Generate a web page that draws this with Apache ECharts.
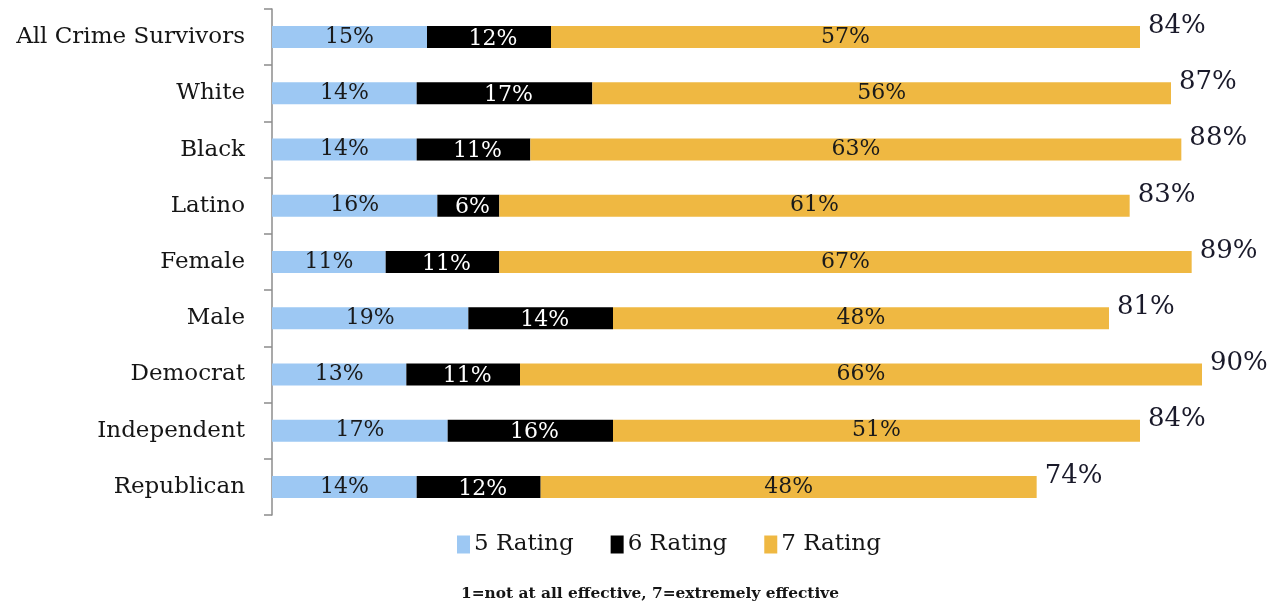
<!DOCTYPE html>
<html>
<head>
<meta charset="utf-8">
<script src="https://cdn.jsdelivr.net/npm/echarts@6/dist/echarts.min.js"></script>
<style>
html,body{margin:0;padding:0;background:#fff;}
#chart{width:1281px;height:611px;}
</style>
</head>
<body>
<div id="chart"></div>
<script>
const categories = ['All Crime Survivors','White','Black','Latino','Female','Male','Democrat','Independent','Republican'];
const rating5 = [15,14,14,16,11,19,13,17,14];
const rating6 = [12,17,11,6,11,14,11,16,12];
const rating7 = [57,56,63,61,67,48,66,51,48];
const totals = [84,87,88,83,89,81,90,84,74];
const seriesNames = ['5 Rating','6 Rating','7 Rating'];
const footnote = '1=not at all effective, 7=extremely effective';

const FONT = 'DejaVu Serif';
const chart = echarts.init(document.getElementById('chart'), null, {renderer:'canvas'});

function pct(p){ return p.value + '%'; }

const option = {
  animation:false,
  backgroundColor:'#ffffff',
  textStyle:{fontFamily:FONT},
  grid:{left:272, right:17, top:9, bottom:96, containLabel:false},
  xAxis:{type:'value', min:0, max:96, show:false},
  yAxis:{
    type:'category', data:categories, inverse:true, offset:3,
    axisLine:{show:true, lineStyle:{color:'#8c8c8c', width:1.5}},
    axisTick:{show:true, interval:0, length:8, lineStyle:{color:'#8c8c8c', width:1.5}},
    axisLabel:{margin:24, fontSize:23, color:'#151515', fontFamily:FONT},
    splitLine:{show:false}
  },
  legend:{
    data:seriesNames, left:452, top:528, itemWidth:13, itemHeight:18, itemGap:37,
    icon:'rect',
    textStyle:{fontSize:23, color:'#151515', fontFamily:FONT, padding:[0,0,0,-1]}
  },
  graphic:[{
    type:'text', x:650, y:594,
    style:{text:footnote, font:'bold 15.4px "DejaVu Serif"', fill:'#151515', align:'center', verticalAlign:'middle'}
  }],
  series:[
    {name:'5 Rating', type:'bar', stack:'r', barWidth:22, data:rating5,
     itemStyle:{color:'#9dc8f3'},
     label:{show:true, position:'inside', formatter:pct, fontSize:22, color:'#1a1a1a', fontFamily:FONT}},
    {name:'6 Rating', type:'bar', stack:'r', barWidth:22, data:rating6,
     itemStyle:{color:'#000000'},
     label:{show:true, position:'inside', formatter:pct, fontSize:22, color:'#ffffff', fontFamily:FONT, offset:[4,2]}},
    {name:'7 Rating', type:'bar', stack:'r', barWidth:22, data:rating7,
     itemStyle:{color:'#efb842'},
     label:{show:true, position:'inside', formatter:pct, fontSize:22, color:'#1a1a1a', fontFamily:FONT}},
    {name:'Total', type:'bar', barWidth:22, barGap:'-100%', data:totals, z:0,
     itemStyle:{color:'rgba(0,0,0,0)'},
     label:{show:true, position:'right', distance:8, offset:[0,-11], formatter:pct, fontSize:26, color:'#1a1a2a', fontFamily:FONT}}
  ]
};
chart.setOption(option);
</script>
</body>
</html>
